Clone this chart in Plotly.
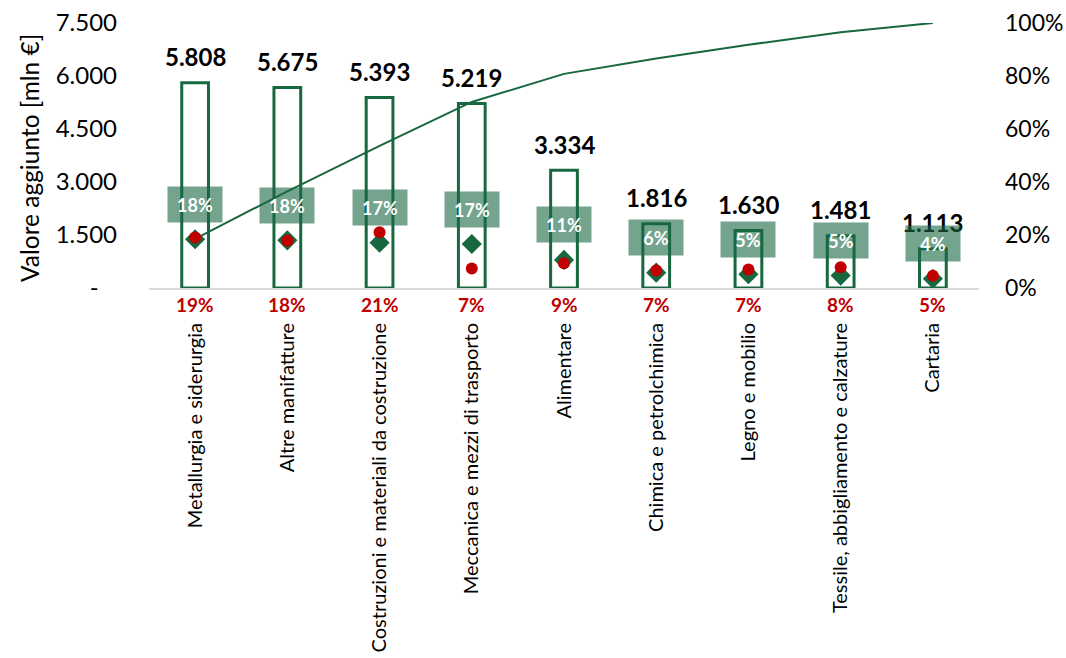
import plotly.graph_objects as go

# Settori manifatturieri ordinati per valore aggiunto
settori = [
    "Metallurgia e siderurgia",
    "Altre manifatture",
    "Costruzioni e materiali da costruzione",
    "Meccanica e mezzi di trasporto",
    "Alimentare",
    "Chimica e petrolchimica",
    "Legno e mobilio",
    "Tessile, abbigliamento e calzature",
    "Cartaria",
]
valore_aggiunto = [5808, 5675, 5393, 5219, 3334, 1816, 1630, 1481, 1113]   # mln €
quota_va = [18.4, 18.0, 17.1, 16.6, 10.6, 5.8, 5.2, 4.7, 3.5]             # % sul totale
quota_rossa = [19.1, 17.8, 21.0, 7.4, 9.3, 6.6, 7.0, 7.8, 4.6]            # %
cumulata = [18.5, 36.5, 53.6, 70.2, 80.8, 86.6, 91.8, 96.5, 100.0]         # % cumulata

ticks_sx = [0, 1500, 3000, 4500, 6000, 7500]
ticks_sx_testo = ["-\u00a0\u00a0\u00a0", "1.500", "3.000", "4.500", "6.000", "7.500"]
ticks_dx = [0, 20, 40, 60, 80, 100]
ticks_dx_testo = ["0%", "20%", "40%", "60%", "80%", "100%"]

VERDE = "#17673f"
ROSSO = "#c00000"
FONT = "Lato"

# margini dell'area del grafico (px)
M_L, M_R, M_T, M_B = 149, 87, 23, 370
W, H = 1066, 658


def migliaia(v):
    return f"{v:,}".replace(",", ".")


fig = go.Figure()

fig.add_trace(go.Bar(
    x=settori, y=valore_aggiunto, width=0.29,
    marker=dict(color="rgba(0,0,0,0)", line=dict(color=VERDE, width=3)),
    hoverinfo="skip", showlegend=False,
))

fig.add_trace(go.Scatter(
    x=settori, y=cumulata, yaxis="y2", mode="lines",
    line=dict(color=VERDE, width=2), showlegend=False,
))

fig.add_trace(go.Scatter(
    x=settori, y=quota_va, yaxis="y2", mode="markers",
    marker=dict(symbol="diamond", size=15.5, color=VERDE), showlegend=False,
))

fig.add_trace(go.Scatter(
    x=settori, y=quota_rossa, yaxis="y2", mode="markers",
    marker=dict(symbol="circle", size=12, color=ROSSO), showlegend=False,
))

annotazioni = []
# valori delle barre
for s, v in zip(settori, valore_aggiunto):
    annotazioni.append(dict(
        x=s, y=v, xref="x", yref="y", text=f"<b>{migliaia(v)}</b>",
        showarrow=False, yshift=26, font=dict(family=FONT, size=24, color="#000000"),
    ))
# etichette della quota di valore aggiunto
for s, q in zip(settori, quota_va):
    annotazioni.append(dict(
        x=s, y=q, xref="x", yref="y2", text=f"<b>{q:.0f}%</b>",
        showarrow=False, yshift=35, width=54, height=35, borderpad=0,
        bgcolor="rgba(23,103,66,0.6)",
        font=dict(family=FONT, size=18, color="#ffffff"),
    ))
# etichette rosse sotto l'asse
for s, q in zip(settori, quota_rossa):
    annotazioni.append(dict(
        x=s, y=0, xref="x", yref="y", text=f"<b>{q:.0f}%</b>",
        showarrow=False, yshift=-16, font=dict(family=FONT, size=19, color=ROSSO),
    ))
# titolo asse sinistro
annotazioni.append(dict(
    x=(29 - M_L) / (W - M_L - M_R), y=(288 - 158) / (H - M_T - M_B),
    xref="paper", yref="paper", xanchor="center", yanchor="middle",
    text="Valore aggiunto [mln €]", textangle=-90, showarrow=False,
    font=dict(family=FONT, size=24.5, color="#000000"),
))

fig.update_layout(
    width=W, height=H,
    margin=dict(l=M_L, r=M_R, t=M_T, b=M_B, autoexpand=False),
    paper_bgcolor="white", plot_bgcolor="white",
    font=dict(family=FONT, color="#000000"),
    xaxis=dict(
        range=[-0.5, len(settori) - 0.5], automargin=False,
        tickangle=-90, tickfont=dict(family=FONT, size=20),
        showline=True, linecolor="#d9d9d9", linewidth=2,
        ticks="", ticklabelstandoff=25, showgrid=False,
    ),
    yaxis=dict(
        range=[0, 7500], tickvals=ticks_sx, ticktext=ticks_sx_testo,
        tickfont=dict(family=FONT, size=24), showgrid=False, zeroline=False,
        ticks="", ticklabelstandoff=31, automargin=False,
    ),
    yaxis2=dict(
        range=[0, 100], tickvals=ticks_dx, ticktext=ticks_dx_testo, overlaying="y",
        side="right", tickfont=dict(family=FONT, size=23), showgrid=False,
        zeroline=False, ticks="", ticklabelstandoff=25, automargin=False,
    ),
    annotations=annotazioni,
)

fig.write_html("out.html")
